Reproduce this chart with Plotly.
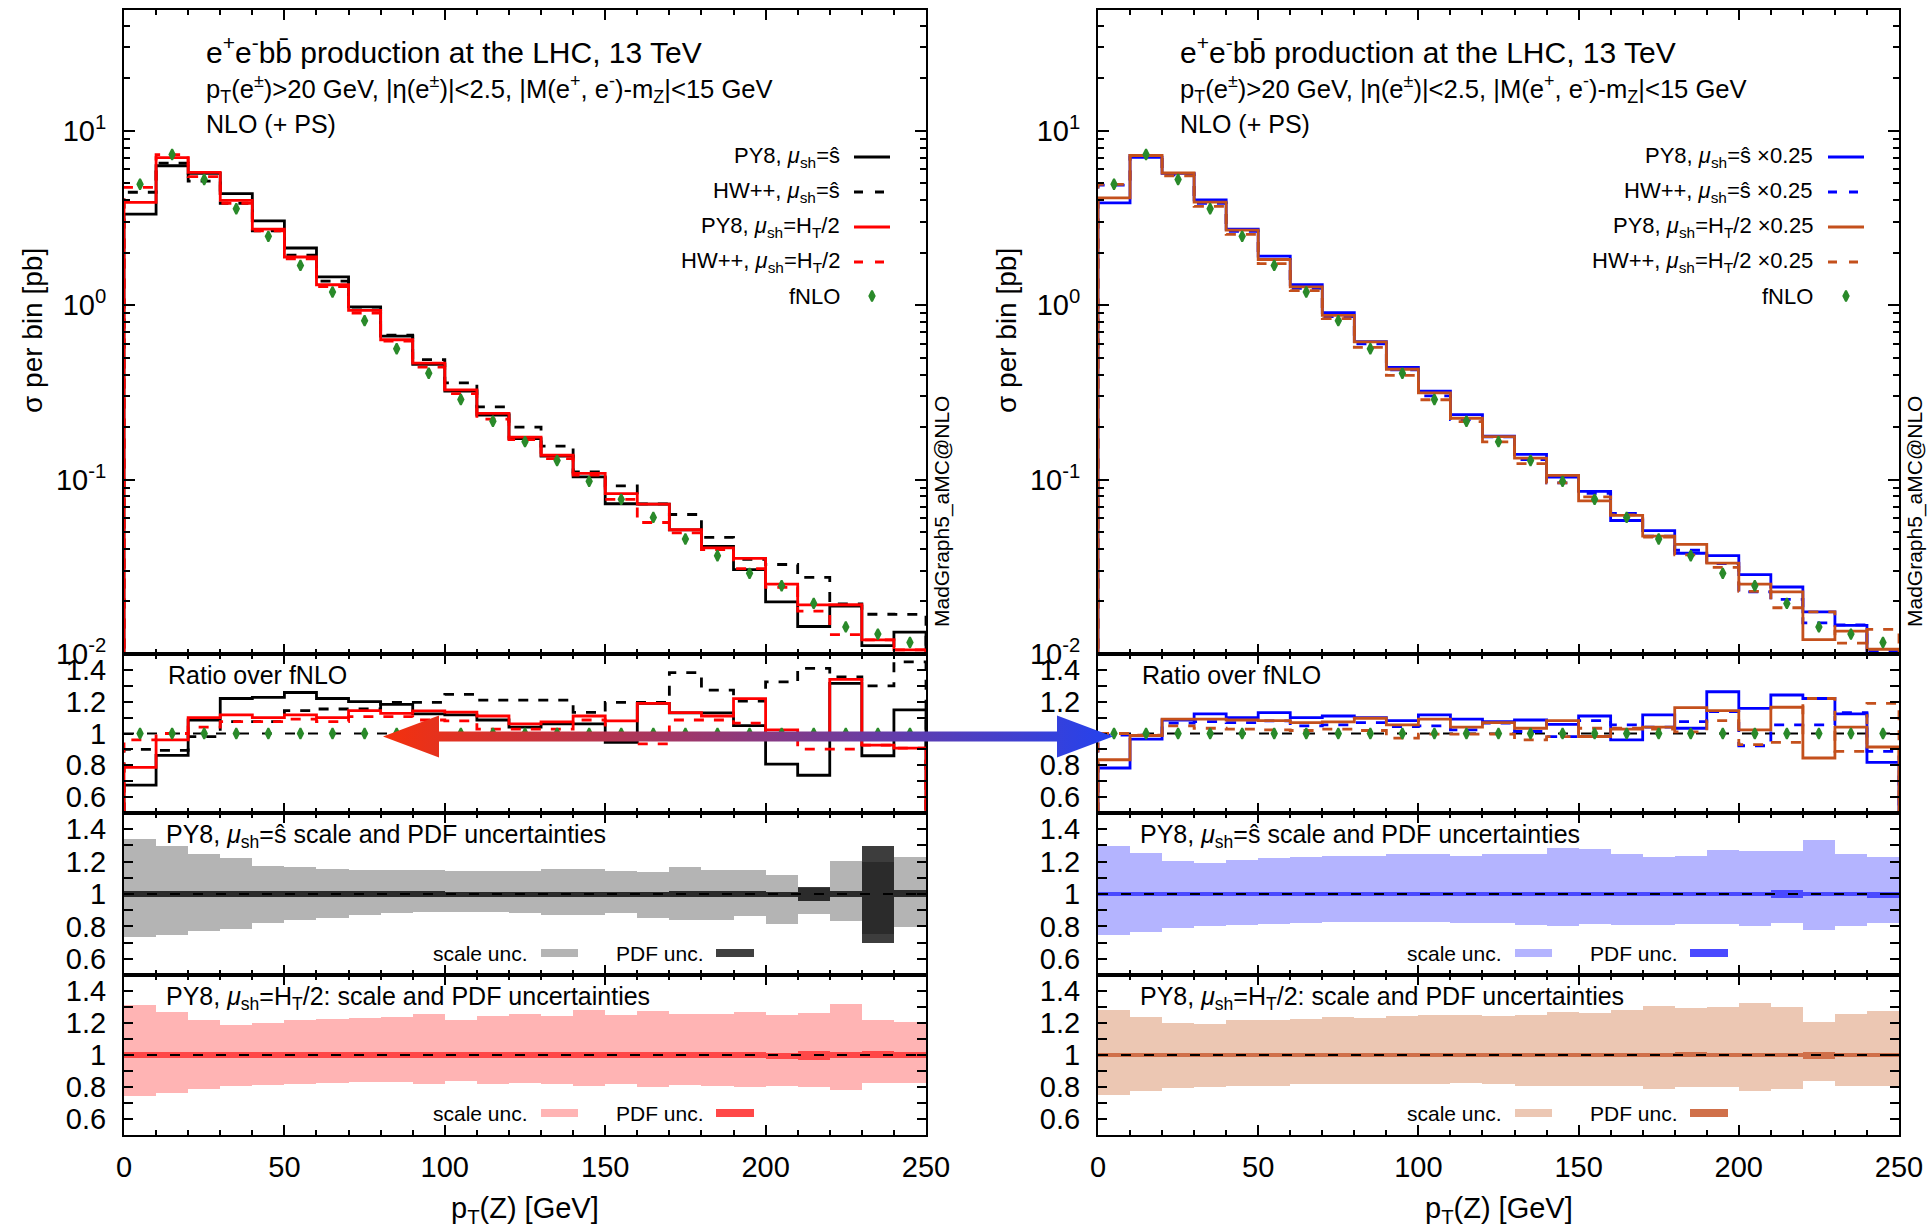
import plotly.graph_objects as go

W, H = 1931, 1229
FONT = "Liberation Sans, Arial, Helvetica, sans-serif"

# ---------------- data ----------------
bin_edges = list(range(0, 260, 10))  # p_T(Z) bins [GeV]

fnlo = [4.93, 7.30, 5.25, 3.57, 2.48, 1.69, 1.19, 0.815, 0.562, 0.407, 0.288, 0.216, 0.165,
        0.1285, 0.0977, 0.0770, 0.0607, 0.0456, 0.0366, 0.0290, 0.0246, 0.0195, 0.0143, 0.0130, 0.01164]

# ratios over fNLO, left plot
r_py8_shat = [0.675, 0.8625, 1.085, 1.22, 1.227, 1.258, 1.22, 1.20, 1.183, 1.123, 1.117, 1.085, 1.04,
              1.06, 1.06, 0.944, 1.19, 1.13, 1.13, 1.05, 0.808, 0.7375, 1.315, 0.86, 1.148]
r_hw_shat = [0.90, 0.894, 0.98, 1.075, 1.075, 1.144, 1.154, 1.154, 1.196, 1.196, 1.246, 1.21, 1.21,
             1.21, 1.133, 1.196, 1.196, 1.383, 1.273, 1.204, 1.325, 1.41, 1.356, 1.30, 1.45]
r_py8_ht = [0.7875, 0.96, 1.10, 1.117, 1.10, 1.117, 1.10, 1.144, 1.127, 1.142, 1.135, 1.11, 1.06,
            1.073, 1.11, 1.08, 1.19, 1.131, 1.11, 1.219, 1.023, 0.98, 1.34, 0.927, 0.908]
r_hw_ht = [0.96, 1.0, 1.04, 1.075, 1.075, 1.09, 1.075, 1.106, 1.106, 1.085, 1.08, 1.027, 1.027,
           1.027, 1.085, 1.0, 0.935, 1.085, 1.085, 1.065, 0.98, 0.902, 0.902, 0.927, 0.908]

# ratios over fNLO, right plot (x0.25 shower scale)
r_py8_shat_q = [0.783, 0.965, 1.085, 1.123, 1.10, 1.131, 1.10, 1.11, 1.10, 1.081, 1.117, 1.09, 1.075,
                1.085, 1.058, 1.11, 0.96, 1.117, 1.033, 1.2625, 1.158, 1.242, 1.22, 1.123, 0.819]
r_hw_shat_q = [0.99, 0.99, 1.065, 1.075, 1.069, 1.08, 1.048, 1.054, 1.069, 1.044, 1.048, 1.023, 1.065,
               1.0125, 0.98, 1.081, 1.054, 1.04, 1.075, 1.1375, 0.923, 1.054, 1.054, 1.131, 0.8875]
r_py8_ht_q = [0.835, 0.9875, 1.09, 1.09, 1.085, 1.081, 1.069, 1.073, 1.096, 1.054, 1.09, 1.04, 1.069,
              1.033, 1.081, 0.981, 1.027, 1.04, 1.1625, 1.144, 1.023, 1.165, 0.846, 1.04, 0.915]
r_hw_ht_q = [1.0, 0.99, 1.048, 1.033, 1.027, 1.023, 1.019, 1.027, 1.019, 0.971, 0.996, 0.996, 0.996,
             0.96, 0.98, 1.033, 1.033, 1.027, 1.01, 1.081, 0.93, 0.944, 1.22, 0.8875, 1.19]

# uncertainty bands (relative), left plot
scale_up_L1 = [1.3375, 1.298, 1.25, 1.225, 1.175, 1.167, 1.156, 1.15, 1.15, 1.146, 1.142, 1.14, 1.14,
               1.156, 1.156, 1.14, 1.133, 1.167, 1.15, 1.15, 1.119, 1.035, 1.202, 1.198, 1.229]
scale_dn_L1 = [0.733, 0.75, 0.769, 0.787, 0.823, 0.8375, 0.852, 0.869, 0.883, 0.89, 0.89, 0.89, 0.885,
               0.869, 0.869, 0.885, 0.852, 0.84, 0.84, 0.865, 0.815, 0.879, 0.833, 0.756, 0.796]
pdf_up_L1 = [1.017, 1.017, 1.017, 1.017, 1.017, 1.017, 1.017, 1.017, 1.017, 1.017, 1.015, 1.015, 1.015,
             1.015, 1.015, 1.015, 1.015, 1.017, 1.017, 1.017, 1.01, 1.042, 1.017, 1.298, 1.027]
pdf_dn_L1 = [0.983, 0.983, 0.983, 0.983, 0.983, 0.983, 0.983, 0.983, 0.983, 0.983, 0.983, 0.983, 0.983,
             0.983, 0.983, 0.983, 0.983, 0.983, 0.983, 0.983, 0.98, 0.958, 0.983, 0.698, 0.981]
scale_up_L2 = [1.315, 1.271, 1.219, 1.1875, 1.2, 1.219, 1.225, 1.231, 1.2375, 1.256, 1.219, 1.244, 1.256,
               1.244, 1.281, 1.25, 1.275, 1.256, 1.256, 1.269, 1.25, 1.2625, 1.319, 1.219, 1.206]
scale_dn_L2 = [0.744, 0.765, 0.79, 0.806, 0.8125, 0.819, 0.825, 0.829, 0.829, 0.819, 0.8375, 0.819, 0.823,
               0.819, 0.806, 0.819, 0.802, 0.8125, 0.808, 0.802, 0.808, 0.802, 0.783, 0.825, 0.825]
pdf_up_L2 = [1.017, 1.017, 1.017, 1.017, 1.017, 1.017, 1.017, 1.017, 1.017, 1.017, 1.017, 1.017, 1.017,
             1.017, 1.017, 1.017, 1.017, 1.017, 1.017, 1.017, 1.012, 1.027, 1.017, 1.027, 1.017]
pdf_dn_L2 = [0.983, 0.983, 0.983, 0.983, 0.983, 0.983, 0.983, 0.983, 0.983, 0.983, 0.983, 0.983, 0.983,
             0.983, 0.983, 0.983, 0.983, 0.983, 0.983, 0.983, 0.977, 0.971, 0.983, 0.979, 0.983]

# uncertainty bands (relative), right plot
scale_up_R1 = [1.298, 1.256, 1.202, 1.194, 1.2125, 1.225, 1.231, 1.2375, 1.2375, 1.25, 1.244, 1.2375, 1.25,
               1.25, 1.281, 1.275, 1.244, 1.231, 1.2375, 1.269, 1.2625, 1.2625, 1.331, 1.244, 1.231]
scale_dn_R1 = [0.746, 0.765, 0.792, 0.802, 0.806, 0.815, 0.823, 0.829, 0.829, 0.829, 0.827, 0.823, 0.819,
               0.806, 0.802, 0.8125, 0.81, 0.81, 0.817, 0.815, 0.802, 0.819, 0.777, 0.802, 0.823]
pdf_up_R1 = [1.015, 1.015, 1.015, 1.015, 1.015, 1.015, 1.013, 1.013, 1.013, 1.013, 1.013, 1.013, 1.013,
             1.013, 1.013, 1.013, 1.015, 1.015, 1.015, 1.015, 1.015, 1.027, 1.015, 1.015, 1.015]
pdf_dn_R1 = [0.985, 0.985, 0.985, 0.985, 0.985, 0.985, 0.985, 0.985, 0.985, 0.985, 0.985, 0.985, 0.985,
             0.985, 0.985, 0.985, 0.985, 0.985, 0.985, 0.985, 0.985, 0.973, 0.985, 0.985, 0.977]
scale_up_R2 = [1.281, 1.2375, 1.2, 1.194, 1.219, 1.219, 1.225, 1.2375, 1.231, 1.244, 1.25, 1.252, 1.244,
               1.252, 1.269, 1.2625, 1.281, 1.306, 1.294, 1.3, 1.325, 1.3, 1.206, 1.256, 1.275]
scale_dn_R2 = [0.752, 0.777, 0.794, 0.798, 0.808, 0.808, 0.819, 0.819, 0.819, 0.819, 0.819, 0.823, 0.819,
               0.808, 0.808, 0.804, 0.804, 0.79, 0.798, 0.798, 0.777, 0.7875, 0.84, 0.808, 0.808]
pdf_up_R2 = [1.015, 1.015, 1.015, 1.015, 1.015, 1.015, 1.015, 1.015, 1.015, 1.015, 1.015, 1.015, 1.015,
             1.015, 1.015, 1.015, 1.015, 1.015, 1.017, 1.015, 1.015, 1.015, 1.019, 1.015, 1.015]
pdf_dn_R2 = [0.985, 0.985, 0.985, 0.985, 0.985, 0.985, 0.985, 0.985, 0.985, 0.985, 0.985, 0.985, 0.985,
             0.985, 0.985, 0.985, 0.985, 0.985, 0.985, 0.985, 0.985, 0.985, 0.975, 0.985, 0.985]

x_ticks = [0, 50, 100, 150, 200, 250]
y_main_ticks = [0.01, 0.1, 1, 10]
y_main_text = ["10<sup>-2</sup>", "10<sup>-1</sup>", "10<sup>0</sup>", "10<sup>1</sup>"]
y_ratio_ticks = [0.6, 0.8, 1.0, 1.2, 1.4]
y_ratio_minor = [0.7, 0.9, 1.1, 1.3]

# ---------------- colours ----------------
BLACK, RED, BLUE, BROWN, GREEN = "#000000", "#ff0000", "#0000ff", "#c4501c", "#2a8a2a"

# ---------------- helpers ----------------
def pxx(x):
    return x / W


def pxy(y):
    return 1 - y / H


centers = [e + 5 for e in bin_edges[:-1]]
fig = go.Figure()


def ax(i, kind):
    return kind if i == 1 else f"{kind}{i}"


def hist(vals, i, color, dash, floor, width=2.8):
    xs = [bin_edges[0]] + bin_edges[:-1] + [bin_edges[-1], bin_edges[-1]]
    ys = [floor] + list(vals) + [vals[-1], floor]
    fig.add_trace(go.Scatter(x=xs, y=ys, mode="lines", line=dict(color=color, width=width, dash=dash, shape="hv"),
                             xaxis=ax(i, "x"), yaxis=ax(i, "y"), showlegend=False, hoverinfo="skip"))


def refline(i):
    ones = [f / f for f in fnlo]
    fig.add_trace(go.Scatter(x=bin_edges, y=ones + [ones[-1]], mode="lines",
                             line=dict(color="black", width=2, dash="10px,13px", shape="hv"),
                             xaxis=ax(i, "x"), yaxis=ax(i, "y"), showlegend=False, hoverinfo="skip"))


DIAMOND = dict(symbol="diamond-tall", size=7.5, color=GREEN, line=dict(width=2, color=GREEN))


def diamonds(vals, i):
    fig.add_trace(go.Scatter(x=centers, y=vals, mode="markers", marker=DIAMOND,
                             xaxis=ax(i, "x"), yaxis=ax(i, "y"), showlegend=False, hoverinfo="skip", cliponaxis=True))


def band(up, dn, i, color):
    fig.add_trace(go.Bar(x=centers, y=[u - d for u, d in zip(up, dn)], base=dn, width=10,
                         marker=dict(color=color, line=dict(width=0)),
                         xaxis=ax(i, "x"), yaxis=ax(i, "y"), showlegend=False, hoverinfo="skip"))


sides = [
    dict(base=0, dx=0, cols=(BLACK, RED),
         ratios=(r_py8_shat, r_hw_shat, r_py8_ht, r_hw_ht),
         bands=((scale_up_L1, scale_dn_L1, pdf_up_L1, pdf_dn_L1, "#b4b4b4", "rgba(0,0,0,0.76)", "#404040"),
                (scale_up_L2, scale_dn_L2, pdf_up_L2, pdf_dn_L2, "#ffb4b4", "#ff4848", "#ff4848")),
         labels=("PY8, <i>μ</i><sub>sh</sub>=ŝ", "HW++, <i>μ</i><sub>sh</sub>=ŝ",
                 "PY8, <i>μ</i><sub>sh</sub>=H<sub>T</sub>/2", "HW++, <i>μ</i><sub>sh</sub>=H<sub>T</sub>/2", "fNLO")),
    dict(base=4, dx=974, cols=(BLUE, BROWN),
         ratios=(r_py8_shat_q, r_hw_shat_q, r_py8_ht_q, r_hw_ht_q),
         bands=((scale_up_R1, scale_dn_R1, pdf_up_R1, pdf_dn_R1, "#b4b4ff", "#4a4aff", "#4a4aff"),
                (scale_up_R2, scale_dn_R2, pdf_up_R2, pdf_dn_R2, "#ecc7b3", "#d0704a", "#d0704a")),
         labels=("PY8, <i>μ</i><sub>sh</sub>=ŝ ×0.25", "HW++, <i>μ</i><sub>sh</sub>=ŝ ×0.25",
                 "PY8, <i>μ</i><sub>sh</sub>=H<sub>T</sub>/2 ×0.25", "HW++, <i>μ</i><sub>sh</sub>=H<sub>T</sub>/2 ×0.25", "fNLO")),
]

rows_px = [(10, 654), (654, 813), (813, 975), (975, 1135)]
cols_px = [(124, 926), (1098, 1899)]

annotations = []
shapes = []


def ann(text, x, y, size, xanchor="left", yanchor="middle", angle=0, color="black"):
    annotations.append(dict(text=text, x=pxx(x), y=pxy(y), xref="paper", yref="paper", showarrow=False,
                            xanchor=xanchor, yanchor=yanchor, textangle=angle,
                            font=dict(family=FONT, size=size, color=color)))


DASH = "10px,10px"
for si, s in enumerate(sides):
    b = s["base"]
    c1, c2 = s["cols"]
    styles = [(c1, "solid"), (c1, DASH), (c2, "solid"), (c2, DASH)]
    # main panel
    for r, (col, dsh) in zip(s["ratios"], styles):
        hist([f * q for f, q in zip(fnlo, r)], b + 1, col, dsh, 1e-3)
    diamonds(fnlo, b + 1)
    # ratio panel
    refline(b + 2)
    for r, (col, dsh) in zip(s["ratios"], styles):
        hist(r, b + 2, col, dsh, 0.0)
    diamonds([f / f for f in fnlo], b + 2)
    # uncertainty panels
    for k, (su, sd, pu, pd, sc, pc, sw) in enumerate(s["bands"]):
        band(su, sd, b + 3 + k, sc)
        band(pu, pd, b + 3 + k, pc)
        refline(b + 3 + k)

    # axes
    x0, x1 = cols_px[si]
    for k, (y0, y1) in enumerate(rows_px):
        i = b + 1 + k
        xa = dict(domain=[pxx(x0), pxx(x1)], range=[0, 250], anchor=ax(i, "y"), automargin=False,
                  showline=True, linecolor="black", linewidth=2, mirror="allticks",
                  ticks="inside", ticklen=10, tickwidth=1.5, tickcolor="black",
                  tickvals=x_ticks, showgrid=False, zeroline=False,
                  minor=dict(dtick=10, ticks="inside", ticklen=5, tickwidth=1.5, tickcolor="black", showgrid=False),
                  showticklabels=(k == 3), tickfont=dict(family=FONT, size=29, color="black"),
                  ticklabelstandoff=5)
        ya = dict(domain=[pxy(y1), pxy(y0)], anchor=ax(i, "x"), automargin=False,
                  showline=True, linecolor="black", linewidth=2, mirror="allticks",
                  ticks="inside", tickwidth=1.5, tickcolor="black", showgrid=False, zeroline=False,
                  tickfont=dict(family=FONT, size=29, color="black"), ticklabelstandoff=10)
        if k == 0:
            ya.update(type="log", range=[-2, 1.692], tickvals=y_main_ticks, ticktext=y_main_text, ticklen=11,
                      minor=dict(tickvals=[m * 10 ** e for e in (-2, -1, 0, 1) for m in range(2, 10)],
                                 ticks="inside", ticklen=6, tickwidth=1.5, tickcolor="black", showgrid=False))
        else:
            ya.update(range=[0.5, 1.5], tickvals=y_ratio_ticks, ticklen=9,
                      minor=dict(tickvals=y_ratio_minor, ticks="inside", ticklen=9, tickwidth=1.5,
                                 tickcolor="black", showgrid=False))
        fig.update_layout(**{ax(i, "xaxis"): xa, ax(i, "yaxis"): ya})

    dx = s["dx"]
    # texts in main panel
    ann("e<sup>+</sup>e<sup>-</sup>bb\u0304 production at the LHC, 13 TeV", 204 + dx, 50, 30)
    ann("p<sub>T</sub>(e<sup>±</sup>)&gt;20 GeV, |η(e<sup>±</sup>)|&lt;2.5, |M(e<sup>+</sup>, e<sup>-</sup>)-m<sub>Z</sub>|&lt;15 GeV",
        204 + dx, 89, 25.6)
    ann("NLO (+ PS)", 204 + dx, 124, 25)
    # legend
    lg_right = 842 if si == 0 else 1815
    rows_y = [157, 192, 227, 262, 296]
    for lab, yy in zip(s["labels"], rows_y):
        ann(lab, lg_right, yy, 22, xanchor="right")
    ann("Ratio over fNLO", 166 + dx, 675, 25)
    ann("PY8, <i>μ</i><sub>sh</sub>=ŝ scale and PDF uncertainties", 164 + dx, 836, 25)
    ann("PY8, <i>μ</i><sub>sh</sub>=H<sub>T</sub>/2: scale and PDF uncertainties", 164 + dx, 998, 25)
    for k, yy in enumerate((953, 1113)):
        sc, sw = s["bands"][k][4], s["bands"][k][6]
        ann("scale unc.", 530 + dx, yy, 21, xanchor="right")
        ann("PDF unc.", 706 + dx, yy, 21, xanchor="right")
        shapes.append(dict(type="rect", xref="paper", yref="paper", x0=pxx(541 + dx), x1=pxx(578 + dx),
                           y0=pxy(yy + 4), y1=pxy(yy - 4), fillcolor=sc, line=dict(width=0)))
        shapes.append(dict(type="rect", xref="paper", yref="paper", x0=pxx(716 + dx), x1=pxx(754 + dx),
                           y0=pxy(yy + 4), y1=pxy(yy - 4), fillcolor=sw, line=dict(width=0)))
    # axis titles and program label
    ann("σ per bin [pb]", 33 + dx, 331, 28, xanchor="center", angle=-90)
    ann("p<sub>T</sub>(Z) [GeV]", 525 + dx, 1210, 29, xanchor="center")
    ann("MadGraph5_aMC@NLO", 942 + dx - (0 if si == 0 else 1), 512, 21, xanchor="center", angle=-90)

# ---------------- overlay (pixel space) for legend keys and the arrow ----------------
fig.update_layout(**{
    "xaxis9": dict(domain=[0, 1], range=[0, W], visible=False, fixedrange=True, anchor="y9", automargin=False),
    "yaxis9": dict(domain=[0, 1], range=[H, 0], visible=False, fixedrange=True, anchor="x9", automargin=False),
})

leg_keys = [
    (854, 890, [157, 192, 227, 262], [(BLACK, "solid"), (BLACK, "9px,12px"), (RED, "solid"), (RED, "9px,12px")]),
    (1828, 1864, [157, 192, 227, 262], [(BLUE, "solid"), (BLUE, "9px,12px"), (BROWN, "solid"), (BROWN, "9px,12px")]),
]
for xa0, xa1, ys, sty in leg_keys:
    for yy, (col, dsh) in zip(ys, sty):
        fig.add_trace(go.Scatter(x=[xa0, xa1], y=[yy, yy], mode="lines", line=dict(color=col, width=2.8, dash=dsh),
                                 xaxis="x9", yaxis="y9", showlegend=False, hoverinfo="skip"))
    fig.add_trace(go.Scatter(x=[(xa0 + xa1) / 2], y=[296], mode="markers", marker=DIAMOND,
                             xaxis="x9", yaxis="y9", showlegend=False, hoverinfo="skip"))

# double-headed gradient arrow
tipL, baseL, tipR, baseR, yc, hs, hh = 383, 439, 1113, 1057, 736.5, 5, 21
arrow_x = [tipL, baseL, baseL, baseR, baseR, tipR, baseR, baseR, baseL, baseL, tipL]
arrow_y = [yc, yc - hh, yc - hs, yc - hs, yc - hh, yc, yc + hh, yc + hs, yc + hs, yc + hh, yc]
fig.add_trace(go.Scatter(x=arrow_x, y=arrow_y, mode="lines", fill="toself", line=dict(width=0),
                         fillgradient=dict(type="horizontal", colorscale=[[0, "#f5300c"], [1, "#2442ee"]]),
                         xaxis="x9", yaxis="y9", showlegend=False, hoverinfo="skip"))

fig.update_layout(width=W, height=H, margin=dict(l=0, r=0, t=0, b=0, autoexpand=False),
                  template="none",
                  paper_bgcolor="white", plot_bgcolor="rgba(0,0,0,0)",
                  barmode="overlay", bargap=0, showlegend=False,
                  annotations=annotations, shapes=shapes,
                  font=dict(family=FONT, color="black"))

fig.write_html("out.html")
